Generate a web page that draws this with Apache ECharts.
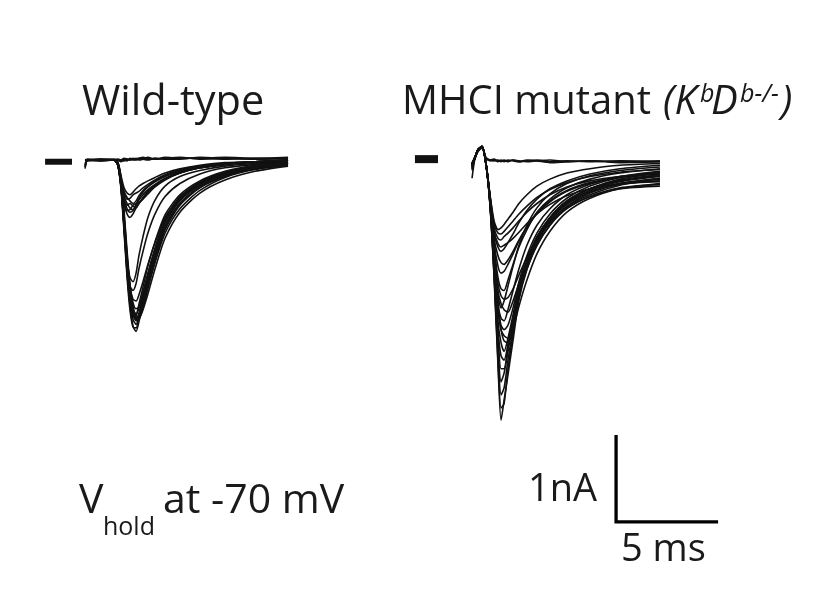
<!DOCTYPE html>
<html>
<head>
<meta charset="utf-8">
<script src="https://cdn.jsdelivr.net/npm/echarts@6/dist/echarts.min.js"></script>
<style>
html,body{margin:0;padding:0;background:#fff;}
#chart{width:819px;height:607px;}
</style>
</head>
<body>
<div id="chart"></div>
<script>
// ---- time bases (ms) ----
var wtTime = [4.17, 4.31, 4.90, 5.59, 5.78, 5.93, 6.08, 6.23, 6.37, 6.52, 6.67, 6.81, 7.01, 7.25, 7.60, 8.09, 8.82, 9.80, 11.03, 12.50, 14.12];
var mutTime = [23.14, 23.28, 23.43, 23.63, 23.82, 24.02, 24.22, 24.41, 24.56, 24.71, 24.90, 25.15, 25.44, 25.83, 26.32, 26.96, 27.79, 28.92, 30.39, 32.35];

// ---- wild-type sweeps (nA) ----
var wtD1 = [-0.10, 0, 0, 0, -0.06, -0.29, -0.75, -1.29, -1.67, -1.91, -1.97, -1.86, -1.64, -1.38, -1.06, -0.71, -0.44, -0.26, -0.15, -0.07, -0.03];
var wtD2 = [0, 0, 0, 0, -0.05, -0.27, -0.72, -1.22, -1.58, -1.78, -1.84, -1.76, -1.57, -1.33, -1.03, -0.70, -0.45, -0.28, -0.16, -0.08, -0.04];
var wtD3 = [0, 0, 0.01, 0, -0.04, -0.24, -0.66, -1.12, -1.45, -1.64, -1.71, -1.69, -1.55, -1.35, -1.08, -0.76, -0.50, -0.31, -0.18, -0.10, -0.05];
var wtD4 = [-0.06, 0, 0, 0, -0.06, -0.30, -0.76, -1.20, -1.45, -1.50, -1.42, -1.25, -1.05, -0.84, -0.62, -0.42, -0.27, -0.16, -0.09, -0.05, -0.02];
var wtD5 = [0, 0, 0, 0, -0.03, -0.20, -0.58, -1.05, -1.42, -1.68, -1.80, -1.82, -1.70, -1.48, -1.16, -0.80, -0.52, -0.32, -0.19, -0.10, -0.05];
var wtD6 = [0, 0, 0, 0, -0.05, -0.28, -0.70, -1.15, -1.45, -1.60, -1.62, -1.55, -1.40, -1.20, -0.95, -0.66, -0.43, -0.27, -0.15, -0.08, -0.03];
var wtD7 = [-0.08, 0, 0, 0, -0.07, -0.33, -0.82, -1.35, -1.72, -1.92, -1.93, -1.80, -1.58, -1.32, -1.02, -0.68, -0.42, -0.25, -0.14, -0.07, -0.03];
var wtD8 = [0, 0, -0.01, 0, -0.05, -0.26, -0.70, -1.18, -1.52, -1.72, -1.77, -1.70, -1.52, -1.30, -1.02, -0.70, -0.46, -0.29, -0.17, -0.09, -0.04];
var wtD9 = [0, 0, 0, 0, -0.04, -0.25, -0.68, -1.16, -1.50, -1.74, -1.85, -1.83, -1.72, -1.54, -1.25, -0.90, -0.60, -0.38, -0.23, -0.13, -0.07];
var wtD10 = [0, 0, 0, 0, -0.06, -0.30, -0.74, -1.15, -1.35, -1.40, -1.30, -1.10, -0.88, -0.66, -0.46, -0.30, -0.19, -0.12, -0.07, -0.04, -0.02];
var wtD11 = [0, 0, 0, 0, -0.05, -0.27, -0.71, -1.20, -1.55, -1.76, -1.82, -1.78, -1.62, -1.42, -1.12, -0.78, -0.50, -0.31, -0.18, -0.09, -0.04];
var wtD12 = [0, 0, 0, 0, -0.06, -0.31, -0.78, -1.30, -1.63, -1.80, -1.79, -1.66, -1.46, -1.22, -0.94, -0.63, -0.40, -0.24, -0.13, -0.06, -0.03];
var wtD13 = [0, 0, 0, 0, -0.04, -0.22, -0.62, -1.10, -1.48, -1.72, -1.83, -1.80, -1.66, -1.46, -1.18, -0.84, -0.56, -0.35, -0.20, -0.11, -0.06];
var wtD14 = [0, 0, 0, 0, -0.05, -0.28, -0.73, -1.24, -1.60, -1.83, -1.89, -1.80, -1.60, -1.36, -1.06, -0.73, -0.47, -0.29, -0.16, -0.08, -0.04];
var wtS1 = [0, 0, 0, 0, -0.05, -0.25, -0.45, -0.56, -0.60, -0.58, -0.52, -0.46, -0.40, -0.34, -0.28, -0.21, -0.14, -0.09, -0.05, -0.03, -0.01];
var wtS2 = [-0.08, 0, 0, 0, -0.06, -0.28, -0.50, -0.62, -0.66, -0.62, -0.55, -0.50, -0.44, -0.37, -0.30, -0.22, -0.15, -0.09, -0.05, -0.02, -0.01];
var wtS3 = [0, 0, 0, 0, -0.04, -0.22, -0.38, -0.45, -0.44, -0.40, -0.38, -0.36, -0.32, -0.28, -0.23, -0.17, -0.11, -0.07, -0.04, -0.02, 0];
var wtS4 = [0, 0, 0, 0, -0.05, -0.26, -0.46, -0.52, -0.50, -0.53, -0.55, -0.50, -0.43, -0.36, -0.29, -0.22, -0.15, -0.09, -0.05, -0.02, -0.01];
var wtS5 = [0, 0, 0, 0, -0.03, -0.18, -0.32, -0.38, -0.40, -0.37, -0.33, -0.30, -0.27, -0.24, -0.20, -0.15, -0.10, -0.06, -0.03, -0.02, 0];
var wtS6 = [-0.05, 0, 0, 0, -0.05, -0.24, -0.42, -0.50, -0.55, -0.57, -0.51, -0.44, -0.37, -0.31, -0.25, -0.19, -0.13, -0.08, -0.04, -0.02, -0.01];
var wtS7 = [0, 0, 0, 0, -0.06, -0.27, -0.48, -0.58, -0.57, -0.52, -0.50, -0.49, -0.45, -0.39, -0.31, -0.23, -0.15, -0.09, -0.05, -0.02, -0.01];
var wtS8 = [0, 0, 0, 0, -0.04, -0.21, -0.36, -0.43, -0.47, -0.50, -0.47, -0.41, -0.35, -0.30, -0.24, -0.18, -0.12, -0.07, -0.04, -0.02, 0];
var wtF1 = [0, 0.01, 0, 0, -0.01, 0, 0.01, -0.01, 0.02, 0.01, 0, 0.01, 0.02, 0.01, 0.02, 0.01, 0.02, 0.02, 0.01, 0.02, 0.01];
var wtF2 = [-0.04, 0, -0.01, 0, 0, -0.02, 0, 0.01, 0, 0.01, 0.02, 0, 0.01, 0.03, 0.01, 0.02, 0.03, 0.01, 0.02, 0.01, 0.02];
var wtF3 = [0, -0.01, 0, 0.01, 0, 0, -0.01, 0, 0.01, 0, 0.01, 0.02, 0.01, 0, 0.02, 0.01, 0.01, 0.03, 0.02, 0.01, 0.02];
var wtF4 = [0, 0, 0.01, 0, 0.01, 0, 0.02, 0.01, 0, 0.02, 0.01, 0.02, 0.03, 0.02, 0.01, 0.03, 0.02, 0.02, 0.03, 0.02, 0.03];

// ---- MHCI mutant sweeps (nA) ----
var mutM1 = [-0.21, 0.02, 0.11, 0.15, -0.04, -0.52, -1.35, -2.35, -2.99, -2.76, -2.47, -2.07, -1.61, -1.26, -0.98, -0.75, -0.54, -0.40, -0.29, -0.21];
var mutM2 = [-0.05, 0.03, 0.12, 0.16, -0.03, -0.50, -1.30, -2.20, -2.70, -2.62, -2.30, -1.95, -1.55, -1.20, -0.92, -0.68, -0.48, -0.33, -0.22, -0.15];
var mutM3 = [-0.10, 0.02, 0.10, 0.14, -0.05, -0.48, -1.15, -1.85, -2.10, -2.20, -2.05, -1.78, -1.45, -1.15, -0.88, -0.66, -0.47, -0.33, -0.24, -0.18];
var mutM4 = [-0.04, 0.03, 0.11, 0.15, -0.04, -0.46, -1.10, -1.70, -1.90, -1.95, -1.90, -1.70, -1.40, -1.10, -0.84, -0.62, -0.44, -0.30, -0.20, -0.14];
var mutM5 = [-0.06, 0.02, 0.12, 0.15, -0.03, -0.44, -1.05, -1.50, -1.65, -1.72, -1.75, -1.62, -1.42, -1.18, -0.94, -0.72, -0.53, -0.38, -0.28, -0.25];
var mutM6 = [-0.03, 0.03, 0.11, 0.14, -0.05, -0.45, -1.00, -1.35, -1.48, -1.50, -1.38, -1.20, -1.00, -0.80, -0.60, -0.45, -0.32, -0.22, -0.15, -0.10];
var mutM7 = [-0.12, 0.02, 0.10, 0.15, -0.04, -0.42, -0.85, -1.00, -1.05, -1.02, -0.95, -0.85, -0.72, -0.58, -0.45, -0.33, -0.24, -0.16, -0.10, -0.06];
var mutM8 = [-0.05, 0.03, 0.12, 0.16, -0.03, -0.40, -0.70, -0.80, -0.78, -0.74, -0.68, -0.60, -0.50, -0.40, -0.30, -0.22, -0.15, -0.10, -0.06, -0.04];
var mutM9 = [-0.08, 0.02, 0.11, 0.15, -0.04, -0.44, -0.90, -1.10, -1.18, -1.20, -1.15, -1.05, -0.92, -0.77, -0.62, -0.48, -0.36, -0.27, -0.20, -0.16];
var mutM10 = [-0.04, 0.03, 0.12, 0.15, -0.04, -0.50, -1.20, -2.00, -2.40, -2.40, -2.15, -1.85, -1.50, -1.18, -0.90, -0.66, -0.47, -0.33, -0.23, -0.17];
var mutM11 = [-0.06, 0.02, 0.11, 0.15, -0.04, -0.52, -1.32, -2.30, -2.85, -2.80, -2.40, -2.00, -1.58, -1.22, -0.95, -0.70, -0.50, -0.35, -0.25, -0.19];
var mutM12 = [-0.07, 0.03, 0.11, 0.15, -0.04, -0.42, -0.78, -0.90, -0.92, -0.88, -0.84, -0.78, -0.70, -0.60, -0.50, -0.40, -0.31, -0.24, -0.19, -0.15];
var mutM13 = [-0.08, 0.02, 0.11, 0.15, -0.04, -0.50, -1.28, -2.15, -2.55, -2.45, -2.20, -1.88, -1.52, -1.20, -0.93, -0.70, -0.51, -0.37, -0.27, -0.21];
var mutM14 = [-0.05, 0.03, 0.12, 0.15, -0.04, -0.47, -1.12, -1.72, -1.95, -2.02, -2.05, -1.85, -1.55, -1.25, -0.98, -0.75, -0.56, -0.42, -0.32, -0.28];
var mutM15 = [-0.04, 0.02, 0.11, 0.15, -0.05, -0.47, -1.10, -1.65, -1.82, -1.85, -1.72, -1.50, -1.25, -0.98, -0.75, -0.56, -0.40, -0.28, -0.19, -0.13];
var mutM16 = [-0.06, 0.03, 0.11, 0.16, -0.04, -0.45, -1.02, -1.42, -1.56, -1.60, -1.58, -1.48, -1.32, -1.12, -0.91, -0.72, -0.55, -0.42, -0.33, -0.30];
var mutM17 = [-0.05, 0.02, 0.12, 0.15, -0.04, -0.44, -0.95, -1.22, -1.30, -1.28, -1.20, -1.08, -0.93, -0.77, -0.61, -0.47, -0.35, -0.26, -0.19, -0.14];
var mutM18 = [-0.07, 0.03, 0.11, 0.15, -0.04, -0.43, -0.82, -0.96, -1.00, -0.98, -0.95, -0.90, -0.83, -0.73, -0.62, -0.51, -0.41, -0.33, -0.27, -0.24];
var mutM19 = [-0.06, 0.02, 0.11, 0.15, -0.04, -0.49, -1.20, -1.95, -2.25, -2.30, -2.12, -1.82, -1.48, -1.16, -0.89, -0.67, -0.49, -0.36, -0.27, -0.22];
var mutM20 = [-0.05, 0.03, 0.12, 0.15, -0.04, -0.47, -1.08, -1.55, -1.70, -1.62, -1.45, -1.22, -0.98, -0.75, -0.55, -0.39, -0.27, -0.18, -0.12, -0.08];
var mutM21 = [-0.09, 0.02, 0.11, 0.15, -0.04, -0.41, -0.74, -0.84, -0.85, -0.82, -0.77, -0.70, -0.62, -0.53, -0.43, -0.34, -0.26, -0.19, -0.14, -0.11];
var mutM22 = [-0.04, 0.03, 0.12, 0.15, -0.04, -0.45, -1.05, -1.65, -1.95, -2.08, -2.10, -1.95, -1.68, -1.38, -1.08, -0.82, -0.60, -0.44, -0.33, -0.27];
var mutF1 = [-0.05, 0.03, 0.12, 0.15, 0.03, 0, -0.01, 0, -0.02, 0, -0.01, 0, -0.02, -0.01, 0, -0.02, -0.01, -0.02, -0.01, -0.02];
var mutF2 = [-0.10, 0.02, 0.10, 0.14, 0.02, -0.01, 0, -0.02, -0.01, -0.02, 0, -0.01, -0.02, 0, -0.01, -0.03, -0.02, -0.01, -0.03, -0.02];
var mutF3 = [-0.06, 0.03, 0.11, 0.14, 0.02, 0, 0.01, -0.01, 0, -0.01, -0.02, 0, -0.01, -0.02, -0.01, 0, -0.02, -0.01, -0.02, -0.01];

// ---- stimulus artifact blanking marks: [start ms, end ms, level nA] ----
var wtArtifact = [2.21, 3.53, -0.02];
var mutArtifact = [20.34, 21.47, 0.01];

// ---- scale bar: origin (ms, nA) and sizes ----
var scaleOrigin = [30.2, -4.16];
var scaleTimeMs = 5;
var scaleCurrentNA = 1;

var wtSweeps = [wtD1, wtD2, wtD3, wtD4, wtD5, wtD6, wtD7, wtD8, wtD9, wtD10, wtD11, wtD12, wtD13, wtD14,
  wtS1, wtS2, wtS3, wtS4, wtS5, wtS6, wtS7, wtS8, wtF1, wtF2, wtF3, wtF4];
var mutSweeps = [mutM1, mutM2, mutM3, mutM4, mutM5, mutM6, mutM7, mutM8, mutM9, mutM10, mutM11,
  mutM12, mutM13, mutM14, mutM15, mutM16, mutM17, mutM18, mutM19, mutM20, mutM21, mutM22, mutF1, mutF2, mutF3];

function zip(t, v) { return v.map(function (y, i) { return [t[i], y]; }); }
var traceColor = '#111111';
var series = [];
wtSweeps.forEach(function (v) {
  series.push({ type: 'line', data: zip(wtTime, v), symbol: 'none', smooth: 0.25,
    lineStyle: { color: traceColor, width: 1.6 }, silent: true });
});
mutSweeps.forEach(function (v) {
  series.push({ type: 'line', data: zip(mutTime, v), symbol: 'none', smooth: 0.25,
    lineStyle: { color: traceColor, width: 1.6 }, silent: true });
});
[[wtArtifact, 6], [mutArtifact, 8]].forEach(function (a) {
  var s = a[0];
  series.push({ type: 'line', data: [[s[0], s[2]], [s[1], s[2]]], symbol: 'none',
    lineStyle: { color: '#111', width: a[1], cap: 'butt' }, silent: true });
});
series.push({ type: 'line', symbol: 'none', silent: true,
  data: [[scaleOrigin[0], scaleOrigin[1] + scaleCurrentNA], [scaleOrigin[0], scaleOrigin[1]], [scaleOrigin[0] + scaleTimeMs, scaleOrigin[1]]],
  lineStyle: { color: '#000', width: 3.3, cap: 'butt', join: 'miter' } });

var F = '"Open Sans", "Noto Sans", sans-serif';
function txt(x, y, s, size, italic) {
  return { type: 'text', x: x, y: y, silent: true,
    style: { text: s, fill: '#1a1a1a', font: (italic ? 'italic ' : '') + size + 'px ' + F, verticalAlign: 'middle', align: 'left' } };
}

var chart = echarts.init(document.getElementById('chart'), null, { renderer: 'canvas' });
chart.setOption({
  animation: false,
  backgroundColor: '#ffffff',
  grid: { left: 0, right: 0, top: 0, bottom: 0, containLabel: false },
  xAxis: { type: 'value', min: 0, max: 819 / 20.4, show: false },
  yAxis: { type: 'value', min: -447 / 87, max: 160 / 87, show: false },
  series: series,
  graphic: [
    txt(82, 103, 'Wild-type', 41.5, false),
    txt(402, 103, 'MHCI mutant', 40, false),
    txt(663, 103, '(K', 40, true),
    txt(700, 95, 'b', 25, true),
    txt(711, 103, 'D', 40, true),
    txt(740, 95, 'b-/-', 25, true),
    txt(781, 103, ')', 40, true),
    txt(79, 501, 'V', 41, false),
    txt(103, 528, 'hold', 25, false),
    txt(163, 501, 'at -70 mV', 41, false),
    txt(528, 490, '1nA', 38, false),
    txt(621, 550, '5 ms', 38, false)
  ]
});
</script>
</body>
</html>
